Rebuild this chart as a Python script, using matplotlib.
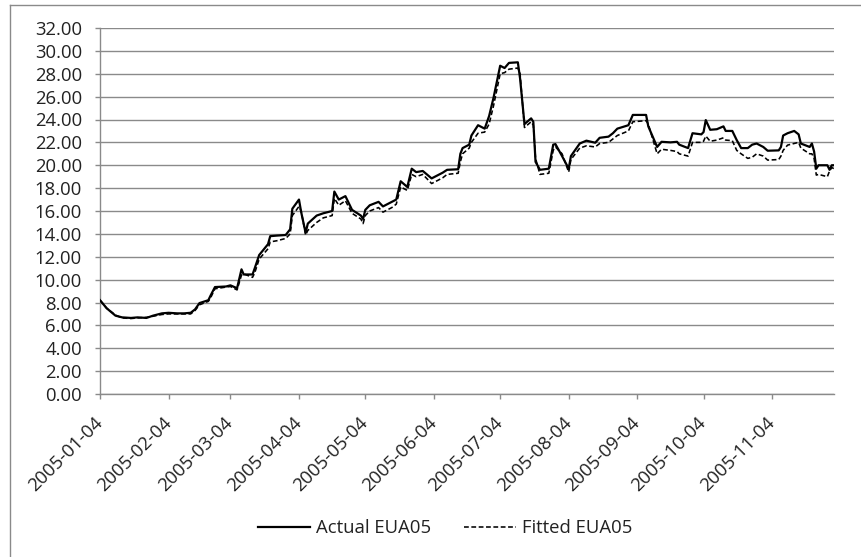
import matplotlib
matplotlib.use("Agg")
import matplotlib.pyplot as plt
from matplotlib.lines import Line2D
import pandas as pd

plt.rcParams["font.family"] = ["Open Sans", "DejaVu Sans"]

dates = [
    "2005-01-04", "2005-01-07", "2005-01-11", "2005-01-14", "2005-01-18", "2005-01-21",
    "2005-01-25", "2005-01-28", "2005-02-01", "2005-02-04", "2005-02-08", "2005-02-11",
    "2005-02-14", "2005-02-16", "2005-02-18", "2005-02-22", "2005-02-23", "2005-02-25",
    "2005-03-02", "2005-03-04", "2005-03-07", "2005-03-09", "2005-03-10", "2005-03-14",
    "2005-03-15", "2005-03-17", "2005-03-21", "2005-03-22", "2005-03-25", "2005-03-29",
    "2005-03-31", "2005-04-01", "2005-04-04", "2005-04-05", "2005-04-07", "2005-04-08",
    "2005-04-12", "2005-04-15", "2005-04-19", "2005-04-20", "2005-04-22", "2005-04-25",
    "2005-04-28", "2005-05-02", "2005-05-03", "2005-05-04", "2005-05-06", "2005-05-10",
    "2005-05-12", "2005-05-16", "2005-05-18", "2005-05-20", "2005-05-23", "2005-05-25",
    "2005-05-27", "2005-05-30", "2005-06-03", "2005-06-08", "2005-06-10", "2005-06-15",
    "2005-06-16", "2005-06-17", "2005-06-20", "2005-06-21", "2005-06-24", "2005-06-27",
    "2005-06-29", "2005-07-01", "2005-07-04", "2005-07-06", "2005-07-08", "2005-07-12",
    "2005-07-13", "2005-07-15", "2005-07-18", "2005-07-19", "2005-07-20", "2005-07-22",
    "2005-07-26", "2005-07-28", "2005-07-29", "2005-08-01", "2005-08-04", "2005-08-05",
    "2005-08-09", "2005-08-12", "2005-08-16", "2005-08-18", "2005-08-22", "2005-08-24",
    "2005-08-26", "2005-08-31", "2005-09-02", "2005-09-08", "2005-09-09", "2005-09-13",
    "2005-09-15", "2005-09-19", "2005-09-22", "2005-09-23", "2005-09-27", "2005-09-29",
    "2005-10-03", "2005-10-04", "2005-10-05", "2005-10-07", "2005-10-10", "2005-10-13",
    "2005-10-14", "2005-10-17", "2005-10-19", "2005-10-21", "2005-10-24", "2005-10-26",
    "2005-10-28", "2005-10-31", "2005-11-02", "2005-11-07", "2005-11-08", "2005-11-09",
    "2005-11-11", "2005-11-14", "2005-11-16", "2005-11-17", "2005-11-21", "2005-11-22",
    "2005-11-23", "2005-11-24", "2005-11-25", "2005-11-29", "2005-11-30", "2005-12-01",
    "2005-12-02",
]

actual_eua05 = [
    8.20, 7.50, 6.85, 6.70, 6.65, 6.70,
    6.65, 6.85, 7.05, 7.10, 7.05, 7.05,
    7.10, 7.40, 7.95, 8.20, 8.60, 9.35,
    9.40, 9.50, 9.25, 10.90, 10.45, 10.45,
    11.00, 12.15, 13.10, 13.80, 13.85, 13.90,
    14.40, 16.20, 17.00, 15.90, 14.10, 14.90,
    15.60, 15.80, 16.00, 17.70, 17.00, 17.30,
    16.10, 15.60, 15.30, 16.10, 16.50, 16.80,
    16.40, 16.80, 17.00, 18.60, 18.10, 19.70,
    19.40, 19.50, 18.85, 19.35, 19.60, 19.65,
    21.00, 21.50, 21.80, 22.60, 23.50, 23.20,
    24.30, 25.90, 28.70, 28.50, 28.95, 29.00,
    27.60, 23.60, 24.10, 23.80, 20.30, 19.60,
    19.70, 21.80, 21.85, 20.80, 19.70, 20.80,
    21.90, 22.15, 21.97, 22.40, 22.50, 22.80,
    23.20, 23.50, 24.40, 24.40, 23.40, 21.60,
    22.05, 22.00, 22.05, 21.80, 21.50, 22.80,
    22.70, 22.90, 23.95, 23.10, 23.15, 23.40,
    23.00, 23.00, 22.20, 21.50, 21.50, 21.80,
    21.90, 21.60, 21.27, 21.30, 21.60, 22.60,
    22.80, 23.00, 22.70, 21.90, 21.60, 21.90,
    21.20, 19.70, 20.00, 20.00, 19.60, 20.00,
    20.00,
]

fitted_eua05 = [
    8.20, 7.50, 6.90, 6.65, 6.60, 6.65,
    6.70, 6.80, 6.95, 7.00, 7.00, 7.00,
    7.00, 7.30, 7.80, 8.10, 8.40, 9.20,
    9.35, 9.40, 9.10, 10.40, 10.50, 10.20,
    10.60, 11.80, 12.70, 13.30, 13.40, 13.60,
    14.00, 15.60, 16.40, 16.00, 13.90, 14.30,
    15.00, 15.40, 15.60, 17.10, 16.50, 16.90,
    15.80, 15.30, 14.90, 15.60, 16.00, 16.30,
    15.90, 16.30, 16.60, 18.10, 17.80, 19.20,
    19.00, 19.20, 18.40, 18.90, 19.20, 19.30,
    20.30, 21.00, 21.50, 22.00, 22.80, 22.90,
    23.60, 25.20, 28.00, 28.10, 28.40, 28.50,
    28.00, 23.30, 23.80, 23.50, 20.60, 19.20,
    19.30, 21.30, 21.60, 21.00, 19.40, 20.50,
    21.50, 21.70, 21.60, 21.90, 22.00, 22.30,
    22.60, 23.00, 23.80, 23.90, 23.60, 21.00,
    21.40, 21.30, 21.20, 21.00, 20.80, 22.00,
    22.00, 22.10, 22.55, 22.10, 22.20, 22.40,
    22.20, 22.15, 21.30, 21.00, 20.60, 20.70,
    21.00, 20.80, 20.45, 20.50, 20.80, 21.30,
    21.76, 21.90, 22.00, 21.50, 21.00, 21.00,
    20.60, 19.14, 19.20, 19.00, 19.50, 19.80,
    19.70,
]

tick_dates = ["2005-01-04", "2005-02-04", "2005-03-04", "2005-04-04", "2005-05-04",
              "2005-06-04", "2005-07-04", "2005-08-04", "2005-09-04", "2005-10-04",
              "2005-11-04"]
y_ticks = list(range(0, 33, 2))
series_names = ["Actual EUA05", "Fitted EUA05"]

x = pd.to_datetime(dates)
xt = pd.to_datetime(tick_dates)

W, H = 862, 557
fig = plt.figure(figsize=(W / 100, H / 100), dpi=100)
ax = fig.add_axes([100 / W, 1 - 394 / H, (834 - 100) / W, (394 - 28) / H])

grid_col = "#8a8a8a"
text_col = "#222222"
fs = 13.3
dash = (0, (3, 1.6))

ax.plot(x, actual_eua05, color="black", lw=1.6, zorder=3)
ax.plot(x, fitted_eua05, color="black", lw=1.15, linestyle=dash, zorder=3)

ax.set_xlim(x[0], x[-1])
ax.set_ylim(0, 32)
ax.set_yticks(y_ticks)
ax.set_yticklabels([f"{v:.2f}" for v in y_ticks])
ax.set_xticks(xt)
ax.set_xticklabels(tick_dates, rotation=45, ha="right", va="center",
                   rotation_mode="anchor")

ax.yaxis.grid(True, color=grid_col, lw=1.0)
ax.set_axisbelow(True)
for side in ("top", "right"):
    ax.spines[side].set_visible(False)
for side in ("left", "bottom"):
    ax.spines[side].set_color(grid_col)
    ax.spines[side].set_linewidth(1.0)

ax.tick_params(axis="both", direction="out", length=3.6, width=1.0, color=grid_col,
               labelsize=fs, labelcolor=text_col)
ax.tick_params(axis="y", pad=9.4)
ax.tick_params(axis="x", pad=15)

handles = [
    Line2D([], [], color="black", lw=1.6),
    Line2D([], [], color="black", lw=1.15, linestyle=dash),
]
fig.legend(handles, series_names, loc="center",
           bbox_to_anchor=(445 / W, 1 - 528 / H), ncol=2, frameon=False,
           fontsize=fs, handlelength=2.8, handletextpad=0.33, columnspacing=1.8,
           labelcolor=text_col)

# outer chart frame (top and left edges)
fig.add_artist(Line2D([10 / W, 1.0], [1 - 5 / H, 1 - 5 / H], transform=fig.transFigure,
                      color=grid_col, lw=1.0))
fig.add_artist(Line2D([10 / W, 10 / W], [0.0, 1 - 5 / H], transform=fig.transFigure,
                      color=grid_col, lw=1.0))

fig.savefig("out.png", dpi=100, facecolor="white")
